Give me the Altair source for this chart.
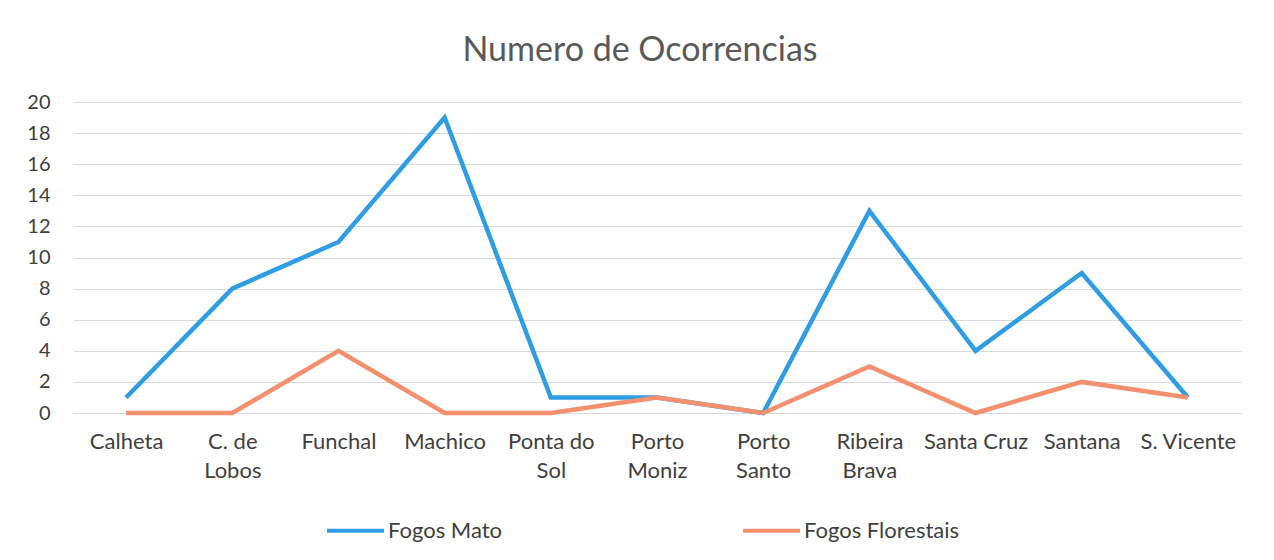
import altair as alt
import pandas as pd

categories = ["Calheta", "C. de Lobos", "Funchal", "Machico", "Ponta do Sol",
              "Porto Moniz", "Porto Santo", "Ribeira Brava", "Santa Cruz",
              "Santana", "S. Vicente"]
fogos_mato = [1, 8, 11, 19, 1, 1, 0, 13, 4, 9, 1]
fogos_florestais = [0, 0, 4, 0, 0, 1, 0, 3, 0, 2, 1]
series_names = ["Fogos Mato", "Fogos Florestais"]
colors = ["#2f9de3", "#f5906f"]

# two-line labels as in the reference
label_lines = {
    "C. de Lobos": ["C. de", "Lobos"],
    "Ponta do Sol": ["Ponta do", "Sol"],
    "Porto Moniz": ["Porto", "Moniz"],
    "Porto Santo": ["Porto", "Santo"],
    "Ribeira Brava": ["Ribeira", "Brava"],
}

rows = []
for name, vals in zip(series_names, [fogos_mato, fogos_florestais]):
    for i, (c, v) in enumerate(zip(categories, vals)):
        rows.append({"Concelho": c, "Serie": name, "Valor": v, "order": i})
df = pd.DataFrame(rows)

expr = "datum.label"
for k, v in label_lines.items():
    expr = f"datum.label == '{k}' ? ['{v[0]}', '{v[1]}'] : (" + expr + ")"

FONT = "Lato"

chart = alt.Chart(df).mark_line(strokeWidth=4.5, strokeJoin="miter").encode(
    x=alt.X("Concelho:N", sort=categories, title=None,
            scale=alt.Scale(paddingInner=0, paddingOuter=0.5),
            axis=alt.Axis(labelAngle=0, labelExpr=expr, labelFontSize=22,
                          labelColor="#404040", labelFont=FONT, ticks=False,
                          domainColor="#d9d9d9", labelPadding=18,
                          labelLineHeight=29, labelBaseline="top")),
    y=alt.Y("Valor:Q", title=None,
            scale=alt.Scale(domain=[0, 20], nice=False),
            axis=alt.Axis(values=list(range(0, 21, 2)), labelFontSize=20,
                          labelColor="#404040", labelFont=FONT, ticks=False,
                          domain=False, gridColor="#d9d9d9", labelPadding=23)),
    color=alt.Color("Serie:N", sort=series_names,
                    scale=alt.Scale(domain=series_names, range=colors),
                    legend=alt.Legend(title=None, orient="none", direction="horizontal",
                                      legendX=252, legendY=398,
                                      symbolType="stroke", symbolSize=3249,
                                      symbolStrokeWidth=4, labelFontSize=22,
                                      labelFont=FONT, labelColor="#404040",
                                      labelOffset=2, columnPadding=233,
                                      labelLimit=300)),
    detail="Serie:N",
    order="order:Q",
).properties(
    width=1168, height=311,
    title=alt.TitleParams("Numero de Ocorrencias", fontSize=34, font=FONT,
                          fontWeight="normal", color="#595959", offset=24, dx=-17),
    autosize=alt.AutoSizeParams(type="none"),
    padding={"left": 65, "top": 94, "right": 25, "bottom": 138},
).configure_view(stroke=None)

chart.save("out.html", embed_options={"renderer": "svg", "actions": False})
